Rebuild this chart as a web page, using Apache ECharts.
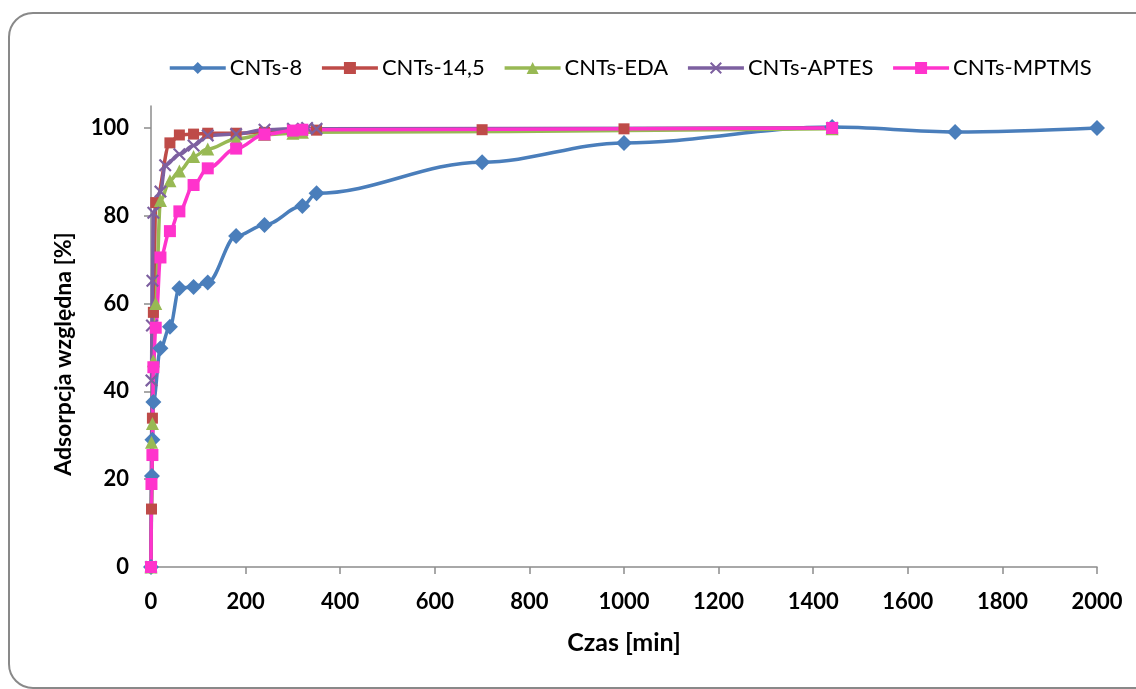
<!DOCTYPE html>
<html>
<head>
<meta charset="utf-8">
<script src="https://cdn.jsdelivr.net/npm/echarts@6/dist/echarts.min.js"></script>
<style>
html,body{margin:0;padding:0;background:#fff;}
#chart{width:1136px;height:689px;}
</style>
</head>
<body>
<div id="chart"></div>
<script>
// ---- data (time in min, relative adsorption in %) ----
const seriesNames = ['CNTs-8', 'CNTs-14,5', 'CNTs-EDA', 'CNTs-APTES', 'CNTs-MPTMS'];

const tCNT8 = [0, 2, 3, 5, 20, 40, 60, 90, 120, 180, 240, 320, 350, 700, 1000, 1440, 1700, 2000];
const yCNT8 = [0, 20.7, 29.0, 37.6, 49.8, 54.7, 63.5, 63.8, 64.8, 75.4, 77.9, 82.2, 85.1, 92.2, 96.6, 100.2, 99.1, 100.0];

const tCNT145 = [0, 1, 3, 5, 10, 40, 60, 90, 120, 180, 240, 300, 320, 350, 700, 1000, 1440];
const yCNT145 = [0, 13.2, 33.9, 58.0, 83.0, 96.6, 98.4, 98.6, 98.8, 98.8, 99.0, 99.2, 99.4, 99.5, 99.6, 99.8, 100.0];

const tEDA = [0, 1, 3, 5, 10, 20, 40, 60, 90, 120, 180, 240, 300, 320, 1440];
const yEDA = [0, 28.4, 32.7, 47.0, 60.0, 83.5, 88.0, 90.2, 93.5, 95.2, 97.5, 98.5, 98.8, 99.0, 99.8];

const tAPTES = [0, 1, 2, 3, 5, 20, 30, 60, 90, 120, 180, 240, 300, 330, 350, 1440];
const yAPTES = [0, 42.5, 55.0, 65.2, 80.7, 85.5, 91.5, 94.0, 96.0, 98.3, 98.6, 99.6, 99.8, 100.0, 99.8, 100.0];

const tMPTMS = [0, 1, 3, 5, 10, 20, 40, 60, 90, 120, 180, 240, 300, 320, 1440];
const yMPTMS = [0, 18.9, 25.5, 45.5, 54.5, 70.5, 76.5, 81.0, 87.0, 90.8, 95.3, 98.5, 99.4, 99.6, 100.0];

const xTicks = [0, 200, 400, 600, 800, 1000, 1200, 1400, 1600, 1800, 2000];
const yTicks = [0, 20, 40, 60, 80, 100];

// ---- build ----
function pairs(t, y) { return t.map((v, i) => [v, y[i]]); }

const font = 'Lato';
const crossPath = 'path://M0,1.2L1.2,0L5,3.8L8.8,0L10,1.2L6.2,5L10,8.8L8.8,10L5,6.2L1.2,10L0,8.8L3.8,5Z';

function mk(name, data, color, symbol, size, lw) {
  return {
    name: name, type: 'line', data: data,
    smooth: 0.35, smoothMonotone: 'x',
    symbol: symbol, symbolSize: size, showSymbol: true,
    lineStyle: { color: color, width: lw },
    itemStyle: { color: color, borderWidth: 0 },
    emphasis: { disabled: true },
    animation: false
  };
}

const chart = echarts.init(document.getElementById('chart'), null, { renderer: 'canvas' });
chart.setOption({
  backgroundColor: '#ffffff',
  animation: false,
  textStyle: { fontFamily: font },
  graphic: [
    { type: 'rect', shape: { x: 9, y: 13, width: 1160, height: 675, r: 24 },
      style: { fill: 'none', stroke: '#898989', lineWidth: 2 }, z: -10 },
    { type: 'text', x: 64, y: 354, rotation: Math.PI / 2,
      style: { text: 'Adsorpcja względna [%]', fontFamily: font, fontSize: 23, fontWeight: 'bold',
               fill: '#000', align: 'center', verticalAlign: 'middle' } }
  ],
  legend: {
    top: 52, left: 163,
    itemWidth: 56, itemHeight: 15, itemGap: 18,
    lineStyle: { width: 3.5 },
    textStyle: { fontFamily: font, fontSize: 22, color: '#000', padding: [0, 0, 0, -1] },
    data: seriesNames
  },
  grid: { left: 151, right: 39, top: 106, bottom: 122, containLabel: false },
  xAxis: {
    type: 'value', min: 0, max: 2000, interval: 200,
    name: 'Czas [min]', nameLocation: 'middle', nameGap: 63,
    nameTextStyle: { fontFamily: font, fontSize: 25, fontWeight: 'bold', color: '#000' },
    axisLine: { lineStyle: { color: '#8c8c8c', width: 1.5 } },
    axisTick: { show: true, inside: false, length: 7, lineStyle: { color: '#8c8c8c', width: 1.5 } },
    axisLabel: { margin: 24, fontFamily: font, fontSize: 22, fontWeight: 'bold', color: '#000',
                 formatter: v => xTicks.includes(v) ? String(v) : '' },
    splitLine: { show: false }
  },
  yAxis: {
    type: 'value', min: 0, max: 105, interval: 20,
    axisLine: { show: true, lineStyle: { color: '#8c8c8c', width: 1.5 } },
    axisTick: { show: true, inside: false, length: 7, customValues: yTicks,
                lineStyle: { color: '#8c8c8c', width: 1.5 } },
    axisLabel: { margin: 22, fontFamily: font, fontSize: 22, fontWeight: 'bold', color: '#000',
                 customValues: yTicks,
                 formatter: v => yTicks.includes(v) ? String(v) : '' },
    splitLine: { show: false }
  },
  series: [
    mk(seriesNames[0], pairs(tCNT8, yCNT8), '#4A7EBB', 'diamond', 16, 3.5),
    mk(seriesNames[1], pairs(tCNT145, yCNT145), '#BE4B48', 'rect', 11, 3.5),
    mk(seriesNames[2], pairs(tEDA, yEDA), '#98B954', 'triangle', 13, 3.5),
    mk(seriesNames[3], pairs(tAPTES, yAPTES), '#7D60A0', crossPath, 13, 3.5),
    mk(seriesNames[4], pairs(tMPTMS, yMPTMS), '#FF33CC', 'rect', 12, 3.5)
  ]
});
</script>
</body>
</html>
